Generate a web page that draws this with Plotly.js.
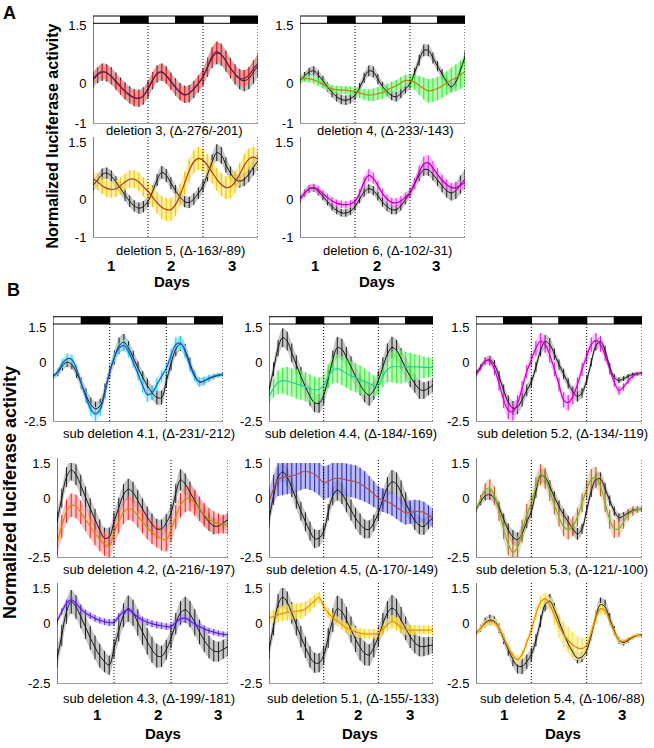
<!DOCTYPE html>
<html><head><meta charset="utf-8">
<script src="https://cdn.plot.ly/plotly-3.0.1.min.js"></script>
<style>html,body{margin:0;padding:0;background:#fff}#chart{width:654px;height:748px}</style>
</head><body><div id="chart"></div>
<script>
// ---------- DATA ----------
const hours = [0,2,4,6,8,10,12,14,16,18,20,22,24,26,28,30,32,34,36,38,40,42,44,46,48,50,52,54,56,58,60,62,64,66,68,70,72];
const dayBoundaries = [24,48,72];
const lightStarts = [0,24,48];
const darkStarts = [12,36,60];
const dayLabels = ['1','2','3'];

const subtitles = ['deletion 3, (\u0394-276/-201)','deletion 4, (\u0394-233/-143)','deletion 5, (\u0394-163/-89)','deletion 6, (\u0394-102/-31)',
 'sub deletion 4.1, (\u0394-231/-212)','sub deletion 4.4, (\u0394-184/-169)','sub deletion 5.2, (\u0394-134/-119)',
 'sub deletion 4.2, (\u0394-216/-197)','sub deletion 4.5, (\u0394-170/-149)','sub deletion 5.3, (\u0394-121/-100)',
 'sub deletion 4.3, (\u0394-199/-181)','sub deletion 5.1, (\u0394-155/-133)','sub deletion 5.4, (\u0394-106/-88)'];
const yTicksA = [-1,0,1.5];
const yTicksB = [-2.5,0,1.5];

// deletion 3
const d3k = [0.1,0.22,0.3,0.28,0.2,0.07,-0.06,-0.18,-0.28,-0.35,-0.37,-0.31,-0.14,0.08,0.25,0.3,0.22,0.07,-0.08,-0.2,-0.27,-0.25,-0.14,0.0,0.17,0.42,0.66,0.78,0.74,0.58,0.4,0.24,0.12,0.08,0.14,0.3,0.46];
const d3kErr = [0.2,0.2,0.22,0.22,0.22,0.22,0.22,0.22,0.22,0.22, 0.22,0.22,0.22,0.22,0.22,0.22,0.22,0.22,0.22,0.22, 0.22,0.22,0.22,0.22,0.22,0.24,0.26,0.28,0.28,0.27, 0.26,0.26,0.26,0.27,0.28,0.3,0.3];
const d3c = [0.12,0.25,0.31,0.28,0.18,0.05,-0.08,-0.2,-0.3,-0.36,-0.37,-0.3,-0.12,0.1,0.27,0.3,0.2,0.05,-0.1,-0.22,-0.29,-0.24,-0.12,0.02,0.18,0.45,0.7,0.82,0.75,0.58,0.4,0.25,0.15,0.13,0.22,0.38,0.52];
const d3cErr = [0.15,0.17,0.18,0.18,0.18,0.18,0.18,0.18,0.18,0.18, 0.18,0.18,0.18,0.18,0.19,0.2,0.2,0.19,0.18,0.18, 0.18,0.18,0.18,0.18,0.2,0.22,0.24,0.26,0.25,0.23, 0.21,0.2,0.2,0.2,0.2,0.2,0.2];
// deletion 4
const d4k = [0.09,0.2,0.3,0.33,0.22,0.08,-0.08,-0.22,-0.33,-0.4,-0.42,-0.38,-0.29,-0.1,0.15,0.33,0.3,0.12,-0.07,-0.2,-0.3,-0.33,-0.25,-0.13,0.0,0.28,0.6,0.85,0.85,0.66,0.45,0.25,0.05,-0.08,0.05,0.35,0.69];
const d4kErr = [0.1,0.1,0.11,0.12,0.12,0.12,0.12,0.12,0.12,0.12, 0.12,0.12,0.12,0.12,0.13,0.14,0.14,0.13,0.12,0.12, 0.12,0.12,0.12,0.12,0.12,0.13,0.14,0.15,0.15,0.14, 0.13,0.12,0.12,0.12,0.12,0.13,0.14];
const d4c = [0.12,0.13,0.13,0.1,0.05,-0.02,-0.08,-0.13,-0.15,-0.16,-0.16,-0.18,-0.2,-0.23,-0.27,-0.29,-0.28,-0.25,-0.22,-0.16,-0.1,-0.05,0.02,0.08,0.08,0.04,-0.04,-0.12,-0.18,-0.16,-0.12,-0.06,0.02,0.09,0.15,0.23,0.31];
const d4cErr = [0.08,0.08,0.09,0.09,0.1,0.1,0.1,0.1,0.1,0.1, 0.1,0.11,0.12,0.13,0.14,0.15,0.16,0.16,0.16,0.16, 0.15,0.15,0.15,0.15,0.17,0.2,0.24,0.28,0.3,0.3, 0.3,0.3,0.3,0.32,0.34,0.36,0.38];
// deletion 5
const d5k = [0.36,0.5,0.65,0.68,0.6,0.45,0.28,0.1,-0.06,-0.18,-0.24,-0.2,-0.06,0.2,0.5,0.7,0.62,0.42,0.22,0.05,-0.07,-0.09,0.0,0.15,0.34,0.65,0.98,1.22,1.15,0.9,0.68,0.52,0.47,0.52,0.65,0.84,1.0];
const d5kErr = [0.15,0.15,0.15,0.15,0.15,0.15,0.15,0.15,0.15,0.15, 0.15,0.15,0.15,0.15,0.16,0.17,0.17,0.16,0.15,0.15, 0.15,0.15,0.15,0.15,0.16,0.18,0.2,0.22,0.22,0.2, 0.18,0.17,0.17,0.18,0.2,0.22,0.24];
const d5c = [0.53,0.45,0.35,0.28,0.25,0.27,0.35,0.45,0.52,0.52,0.45,0.32,0.2,0.05,-0.1,-0.22,-0.28,-0.28,-0.15,0.1,0.42,0.75,0.98,1.07,1.02,0.88,0.7,0.52,0.38,0.3,0.32,0.45,0.65,0.88,1.05,1.1,1.05];
const d5cErr = [0.22,0.22,0.22,0.22,0.22,0.22,0.22,0.22,0.23,0.23, 0.24,0.25,0.26,0.27,0.28,0.3,0.3,0.3,0.3,0.3, 0.3,0.3,0.3,0.3,0.3,0.3,0.3,0.3,0.3,0.3, 0.3,0.3,0.3,0.3,0.28,0.27,0.26];
// deletion 6
const d6k = [0.0,0.15,0.26,0.29,0.2,0.07,-0.07,-0.2,-0.3,-0.36,-0.37,-0.32,-0.2,0.0,0.18,0.27,0.22,0.08,-0.08,-0.2,-0.28,-0.28,-0.18,-0.02,0.16,0.4,0.62,0.77,0.77,0.65,0.5,0.35,0.22,0.16,0.22,0.38,0.52];
const d6kErr = [0.1,0.1,0.1,0.1,0.1,0.1,0.1,0.1,0.1,0.1, 0.1,0.1,0.1,0.11,0.12,0.12,0.12,0.12,0.12,0.12, 0.12,0.12,0.12,0.12,0.13,0.14,0.15,0.16,0.16,0.16, 0.16,0.17,0.18,0.2,0.22,0.24,0.26];
const d6c = [0.0,0.15,0.27,0.3,0.24,0.14,0.04,-0.05,-0.11,-0.14,-0.15,-0.13,-0.06,0.15,0.45,0.62,0.55,0.35,0.15,0.0,-0.09,-0.1,-0.05,0.05,0.16,0.4,0.7,0.92,0.95,0.82,0.65,0.5,0.38,0.3,0.3,0.36,0.43];
const d6cErr = [0.08,0.09,0.1,0.1,0.1,0.1,0.1,0.1,0.1,0.1, 0.1,0.1,0.1,0.12,0.14,0.16,0.15,0.13,0.12,0.12, 0.12,0.12,0.12,0.12,0.13,0.15,0.18,0.2,0.2,0.18, 0.16,0.14,0.13,0.12,0.12,0.12,0.12];
// sub deletion 4.1
const b41k = [-0.6,-0.45,-0.15,0.0,-0.1,-0.45,-0.9,-1.4,-1.8,-1.98,-1.85,-1.2,-0.42,0.2,0.7,0.85,0.6,0.2,-0.25,-0.65,-1.0,-1.3,-1.5,-1.5,-0.8,-0.05,0.55,0.78,0.5,-0.05,-0.55,-0.84,-0.8,-0.7,-0.62,-0.56,-0.52];
const b41kErr = [0.1,0.15,0.2,0.2,0.2,0.22,0.25,0.28,0.3,0.3, 0.3,0.3,0.28,0.3,0.35,0.35,0.3,0.28,0.28,0.28, 0.3,0.3,0.3,0.3,0.3,0.3,0.3,0.3,0.28,0.25, 0.2,0.18,0.15,0.12,0.1,0.08,0.08];
const b41c = [-0.6,-0.4,-0.05,0.15,0.12,-0.3,-0.9,-1.5,-2.0,-2.2,-2.0,-1.3,-0.42,0.2,0.6,0.72,0.45,0.0,-0.5,-1.0,-1.38,-1.3,-0.95,-0.6,-0.27,0.3,0.75,0.82,0.45,-0.15,-0.6,-0.84,-0.8,-0.68,-0.6,-0.55,-0.52];
const b41cErr = [0.1,0.15,0.2,0.22,0.2,0.2,0.22,0.25,0.28,0.3, 0.28,0.25,0.2,0.2,0.22,0.25,0.25,0.25,0.28,0.3, 0.3,0.3,0.28,0.25,0.25,0.28,0.3,0.3,0.28,0.25, 0.22,0.2,0.18,0.15,0.12,0.1,0.08];
// sub deletion 4.4
const b44k = [-1.2,-0.3,0.6,1.05,0.9,0.4,-0.1,-0.6,-1.05,-1.45,-1.72,-1.75,-1.4,-0.7,0.1,0.62,0.55,0.2,-0.2,-0.6,-0.95,-1.25,-1.4,-1.2,-0.77,-0.2,0.35,0.63,0.5,0.15,-0.25,-0.6,-0.9,-1.15,-1.2,-1.1,-0.98];
const b44kErr = [0.2,0.3,0.35,0.4,0.4,0.4,0.4,0.4,0.4,0.4, 0.4,0.4,0.4,0.4,0.4,0.45,0.45,0.45,0.45,0.45, 0.45,0.45,0.45,0.4,0.4,0.4,0.45,0.45,0.45,0.45, 0.45,0.45,0.4,0.4,0.35,0.3,0.3];
const b44c = [-1.48,-1.1,-0.85,-0.78,-0.8,-0.86,-0.92,-0.98,-1.05,-1.12,-1.18,-1.15,-0.98,-0.6,-0.35,-0.27,-0.35,-0.48,-0.58,-0.66,-0.74,-0.82,-0.9,-1.0,-1.0,-0.6,-0.3,-0.2,-0.18,-0.2,-0.2,-0.2,-0.2,-0.2,-0.22,-0.22,-0.22];
const b44cErr = [0.25,0.4,0.5,0.55,0.6,0.6,0.62,0.62,0.62,0.6, 0.55,0.5,0.45,0.5,0.55,0.6,0.62,0.62,0.62,0.62, 0.6,0.55,0.5,0.45,0.4,0.45,0.55,0.65,0.7,0.7, 0.65,0.6,0.55,0.5,0.45,0.42,0.4];
// sub deletion 5.2
const b52k = [-0.45,-0.2,0.05,0.1,-0.1,-0.6,-1.2,-1.7,-1.95,-1.9,-1.6,-1.2,-0.84,-0.2,0.5,0.88,0.75,0.35,-0.1,-0.5,-0.9,-1.25,-1.45,-1.3,-0.77,0.0,0.7,0.88,0.5,-0.2,-0.65,-0.77,-0.7,-0.6,-0.52,-0.48,-0.46];
const b52kErr = [0.1,0.12,0.15,0.18,0.2,0.22,0.25,0.28,0.3,0.3, 0.28,0.25,0.22,0.22,0.25,0.28,0.28,0.25,0.22,0.22, 0.22,0.22,0.22,0.2,0.18,0.18,0.2,0.22,0.2,0.18, 0.15,0.12,0.1,0.1,0.08,0.08,0.08];
const b52c = [-0.56,-0.25,0.05,0.05,-0.3,-0.9,-1.6,-2.05,-2.1,-1.75,-1.1,-0.4,0.1,0.6,0.9,0.75,0.3,-0.3,-0.95,-1.6,-1.72,-1.45,-0.95,-0.3,0.25,0.75,0.93,0.75,0.3,-0.3,-0.85,-1.2,-1.05,-0.8,-0.6,-0.5,-0.46];
const b52cErr = [0.08,0.1,0.15,0.2,0.25,0.3,0.35,0.38,0.38,0.35, 0.3,0.28,0.3,0.32,0.35,0.35,0.32,0.3,0.3,0.32, 0.33,0.33,0.3,0.28,0.28,0.3,0.32,0.3,0.25,0.22, 0.2,0.18,0.15,0.12,0.1,0.08,0.08];
// sub deletion 4.2
const b42k = [-0.99,0.0,0.9,1.2,1.0,0.55,0.05,-0.45,-0.9,-1.35,-1.7,-1.65,-1.0,-0.4,0.15,0.38,0.25,-0.1,-0.45,-0.8,-1.1,-1.3,-1.3,-1.05,-0.63,0.2,0.78,0.6,0.25,-0.1,-0.45,-0.75,-1.0,-1.18,-1.18,-1.05,-0.91];
const b42kErr = [0.4,0.4,0.42,0.45,0.45,0.45,0.45,0.45,0.45,0.45, 0.45,0.4,0.4,0.42,0.45,0.45,0.45,0.45,0.45,0.45, 0.45,0.42,0.4,0.38,0.38,0.4,0.45,0.45,0.45,0.45, 0.42,0.4,0.38,0.35,0.32,0.3,0.3];
const b42c = [-1.91,-1.2,-0.55,-0.3,-0.35,-0.6,-0.9,-1.2,-1.5,-1.75,-1.95,-2.05,-1.48,-1.0,-0.6,-0.43,-0.5,-0.75,-1.0,-1.25,-1.45,-1.6,-1.72,-1.76,-1.34,-0.8,-0.3,-0.05,0.0,-0.2,-0.45,-0.7,-0.9,-1.0,-1.08,-1.1,-1.13];
const b42cErr = [0.5,0.5,0.5,0.5,0.5,0.5,0.5,0.5,0.5,0.5, 0.5,0.5,0.5,0.5,0.5,0.5,0.5,0.5,0.5,0.5, 0.5,0.5,0.5,0.5,0.5,0.5,0.52,0.55,0.55,0.55, 0.52,0.5,0.48,0.45,0.42,0.4,0.4];
// sub deletion 4.5
const b45k = [-0.91,0.1,0.9,1.12,0.9,0.45,-0.05,-0.55,-1.0,-1.4,-1.72,-1.7,-1.41,-0.6,0.1,0.35,0.2,-0.15,-0.5,-0.85,-1.1,-1.3,-1.32,-1.05,-0.63,-0.05,0.45,0.7,0.6,0.25,-0.2,-0.6,-0.95,-1.15,-1.2,-1.0,-0.84];
const b45kErr = [0.35,0.38,0.4,0.4,0.4,0.4,0.4,0.4,0.4,0.4, 0.4,0.35,0.3,0.35,0.4,0.45,0.45,0.45,0.45,0.45, 0.45,0.4,0.38,0.35,0.35,0.38,0.45,0.5,0.5,0.5, 0.45,0.42,0.4,0.38,0.35,0.32,0.3];
const b45c = [-0.15,0.4,0.8,0.88,0.92,0.95,1.0,1.1,1.15,1.1,1.02,0.85,0.65,0.72,0.82,0.86,0.82,0.78,0.74,0.7,0.62,0.5,0.35,0.18,0.01,-0.08,-0.15,-0.25,-0.38,-0.52,-0.62,-0.6,-0.56,-0.56,-0.6,-0.72,-0.84];
const b45cErr = [0.5,0.6,0.7,0.75,0.75,0.75,0.75,0.75,0.75,0.75, 0.75,0.72,0.7,0.7,0.7,0.7,0.7,0.7,0.7,0.7, 0.68,0.65,0.6,0.55,0.5,0.5,0.5,0.5,0.5,0.5, 0.5,0.5,0.5,0.48,0.45,0.42,0.4];
// sub deletion 5.3
const b53k = [-0.49,-0.15,0.1,0.15,0.0,-0.4,-0.9,-1.35,-1.65,-1.76,-1.5,-1.0,-0.56,0.3,0.95,0.9,0.5,0.05,-0.35,-0.7,-1.0,-1.3,-1.52,-1.3,-0.5,0.3,0.8,0.82,0.4,-0.1,-0.55,-0.82,-0.75,-0.62,-0.52,-0.48,-0.46];
const b53kErr = [0.1,0.15,0.2,0.22,0.22,0.22,0.25,0.28,0.3,0.3, 0.3,0.28,0.25,0.28,0.3,0.3,0.28,0.25,0.25,0.25, 0.25,0.25,0.25,0.22,0.22,0.25,0.28,0.28,0.25,0.22, 0.2,0.18,0.15,0.12,0.1,0.08,0.08];
const b53c = [-0.49,-0.05,0.35,0.43,0.1,-0.55,-1.3,-1.95,-2.3,-2.1,-1.4,-0.7,-0.2,0.5,1.0,0.85,0.3,-0.3,-0.8,-1.2,-1.34,-1.2,-0.8,-0.2,0.36,0.8,0.88,0.5,-0.2,-0.9,-1.3,-1.3,-1.0,-0.7,-0.55,-0.48,-0.46];
const b53cErr = [0.1,0.2,0.3,0.38,0.4,0.42,0.45,0.48,0.5,0.5, 0.48,0.45,0.42,0.42,0.45,0.45,0.42,0.4,0.4,0.42, 0.42,0.42,0.4,0.4,0.42,0.45,0.45,0.42,0.4,0.4, 0.38,0.35,0.3,0.25,0.2,0.15,0.12];
// sub deletion 4.3
const b43k = [-1.47,-0.5,0.5,0.92,0.7,0.3,-0.15,-0.6,-1.0,-1.35,-1.6,-1.75,-1.05,-0.3,0.35,0.63,0.45,0.05,-0.35,-0.75,-1.1,-1.35,-1.38,-1.1,-0.62,0.0,0.45,0.58,0.4,0.05,-0.35,-0.7,-0.98,-1.15,-1.18,-1.08,-0.97];
const b43kErr = [0.4,0.45,0.5,0.5,0.5,0.5,0.5,0.5,0.5,0.5, 0.45,0.4,0.4,0.45,0.5,0.55,0.55,0.55,0.55,0.55, 0.55,0.5,0.45,0.42,0.42,0.45,0.5,0.55,0.55,0.55, 0.52,0.5,0.48,0.45,0.42,0.4,0.4];
const b43c = [0.08,0.5,0.85,1.0,0.85,0.62,0.45,0.33,0.22,0.14,0.08,0.04,0.06,0.3,0.5,0.58,0.45,0.28,0.15,0.06,0.0,-0.05,-0.09,-0.12,-0.13,0.05,0.2,0.23,0.12,-0.02,-0.12,-0.22,-0.3,-0.36,-0.41,-0.45,-0.48];
const b43cErr = [0.12,0.14,0.15,0.16,0.15,0.15,0.14,0.14,0.14,0.14, 0.14,0.14,0.14,0.15,0.16,0.16,0.15,0.14,0.14,0.14, 0.14,0.14,0.14,0.14,0.14,0.15,0.16,0.16,0.15,0.14, 0.14,0.14,0.13,0.13,0.12,0.12,0.12];
// sub deletion 5.1
const b51k = [-1.12,-0.1,0.8,1.12,0.9,0.45,-0.05,-0.55,-1.0,-1.4,-1.65,-1.65,-1.33,-0.6,0.15,0.62,0.5,0.15,-0.25,-0.65,-1.0,-1.25,-1.32,-1.0,-0.55,0.0,0.45,0.65,0.5,0.15,-0.2,-0.55,-0.8,-0.95,-0.97,-0.93,-0.9];
const b51kErr = [0.35,0.4,0.45,0.45,0.45,0.45,0.45,0.45,0.45,0.45, 0.42,0.4,0.4,0.42,0.5,0.55,0.55,0.55,0.55,0.55, 0.55,0.5,0.45,0.42,0.42,0.45,0.5,0.55,0.55,0.55, 0.5,0.48,0.45,0.42,0.4,0.38,0.35];
const b51c = [0.23,0.3,0.37,0.43,0.47,0.5,0.52,0.55,0.62,0.78,0.95,1.1,0.72,0.45,0.25,0.1,-0.05,-0.18,-0.27,-0.35,-0.4,-0.43,-0.44,-0.43,-0.41,-0.25,-0.05,0.08,0.0,-0.15,-0.25,-0.27,-0.27,-0.27,-0.27,-0.27,-0.27];
const b51cErr = [0.25,0.28,0.3,0.32,0.33,0.33,0.33,0.33,0.3,0.28, 0.25,0.22,0.2,0.2,0.2,0.2,0.2,0.2,0.2,0.2, 0.2,0.2,0.2,0.2,0.2,0.22,0.25,0.28,0.28,0.25, 0.22,0.2,0.2,0.18,0.18,0.18,0.18];
// sub deletion 5.4
const b54k = [-0.41,-0.2,0.05,0.15,0.1,-0.2,-0.65,-1.1,-1.5,-1.78,-1.8,-1.6,-1.3,-0.7,0.1,0.8,0.95,0.6,0.1,-0.4,-0.85,-1.2,-1.45,-1.4,-1.12,-0.5,0.3,0.8,0.7,0.2,-0.3,-0.7,-0.8,-0.7,-0.58,-0.5,-0.48];
const b54kErr = [0.08,0.15,0.2,0.22,0.2,0.2,0.22,0.25,0.3,0.32, 0.32,0.3,0.28,0.25,0.25,0.28,0.3,0.28,0.25,0.22, 0.22,0.22,0.22,0.22,0.2,0.2,0.25,0.3,0.3,0.25, 0.2,0.15,0.12,0.1,0.08,0.08,0.08];
const b54c = [-0.41,-0.2,0.0,0.08,0.05,-0.2,-0.6,-1.0,-1.35,-1.52,-1.3,-0.8,-0.27,0.4,0.9,1.05,0.8,0.35,-0.1,-0.45,-0.7,-0.9,-1.02,-1.05,-0.9,-0.4,0.25,0.62,0.55,0.1,-0.35,-0.7,-0.75,-0.65,-0.55,-0.5,-0.48];
const b54cErr = [0.08,0.12,0.15,0.15,0.15,0.15,0.15,0.15,0.18,0.2, 0.2,0.2,0.25,0.28,0.28,0.25,0.3,0.4,0.5,0.55, 0.55,0.55,0.5,0.45,0.35,0.3,0.28,0.25,0.2,0.18, 0.15,0.12,0.12,0.1,0.1,0.08,0.08];

// ---------- PANEL SETUP (layout/style) ----------
const series = [
 [d3k,d3kErr,d3c,d3cErr],[d4k,d4kErr,d4c,d4cErr],[d5k,d5kErr,d5c,d5cErr],[d6k,d6kErr,d6c,d6cErr],
 [b41k,b41kErr,b41c,b41cErr],[b44k,b44kErr,b44c,b44cErr],[b52k,b52kErr,b52c,b52cErr],
 [b42k,b42kErr,b42c,b42cErr],[b45k,b45kErr,b45c,b45cErr],[b53k,b53kErr,b53c,b53cErr],
 [b43k,b43kErr,b43c,b43cErr],[b51k,b51kErr,b51c,b51cErr],[b54k,b54kErr,b54c,b54cErr]];
const styles = [
 {bar:'#ee2020',fill:'rgba(255,120,120,0.55)',line:'#6a1f5a'},
 {bar:'#33ee33',fill:'rgba(120,240,120,0.55)',line:'#b8860b'},
 {bar:'#f0c800',fill:'rgba(255,225,90,0.55)',line:'#c0301a'},
 {bar:'#ee33ee',fill:'rgba(245,140,245,0.55)',line:'#b000b0'},
 {bar:'#22ddf0',fill:'rgba(130,235,250,0.55)',line:'#1f4fd0'},
 {bar:'#33ee33',fill:'rgba(140,245,140,0.55)',line:'#20d0a0'},
 {bar:'#e020e0',fill:'rgba(240,140,240,0.45)',line:'#cc00cc'},
 {bar:'#ee3030',fill:'rgba(250,140,140,0.55)',line:'#c89000'},
 {bar:'#3030b0',fill:'rgba(140,140,230,0.6)',line:'#b05050'},
 {bar:'#c06030',fill:'rgba(230,170,130,0.45)',line:'#60c020'},
 {bar:'#6a2ae0',fill:'rgba(170,150,245,0.6)',line:'#5a20d0'},
 {bar:'#f0d000',fill:'rgba(255,230,100,0.55)',line:'#f09000'},
 {bar:'#f5e050',fill:'rgba(255,240,130,0.6)',line:'#f08000'}];
const geom = [
 {x0:93,x1:258,yt:25,yb:123,A:true,bar:true,sx:174,sy:130},
 {x0:300,x1:465,yt:25,yb:123,A:true,bar:true,sx:385,sy:130},
 {x0:93,x1:258,yt:142,yb:237,A:true,sx:180,sy:250},
 {x0:300,x1:465,yt:142,yb:237,A:true,sx:387,sy:250},
 {x0:53,x1:223,yt:327,yb:421,bar:true,sx:149,sy:433},
 {x0:269,x1:433,yt:327,yb:421,bar:true,sx:351,sy:433},
 {x0:476,x1:642,yt:327,yb:421,bar:true,sx:562,sy:433},
 {x0:57,x1:228,yt:463,yb:557,sx:149,sy:569},
 {x0:269,x1:433,yt:463,yb:557,sx:352,sy:569},
 {x0:476,x1:642,yt:463,yb:557,sx:562,sy:569},
 {x0:57,x1:228,yt:588,yb:683,sx:149,sy:698},
 {x0:269,x1:433,yt:588,yb:683,sx:353,sy:698},
 {x0:476,x1:642,yt:588,yb:683,sx:562,sy:698}];

const W=654,H=748;
const px = x=>x/W, py = y=>1-y/H;
const FONT = 'Liberation Sans, Arial, sans-serif';
const traces=[], shapes=[], annotations=[];
const layout = {width:W,height:H,margin:{l:0,r:0,t:0,b:0},paper_bgcolor:'#fff',plot_bgcolor:'rgba(0,0,0,0)',
  showlegend:false,font:{family:FONT,color:'#000'}};

function band(xa,ya,mean,err,fill,barColor){
  const up=mean.map((v,j)=>v+err[j]), lo=mean.map((v,j)=>v-err[j]);
  traces.push({x:hours,y:up,xaxis:xa,yaxis:ya,mode:'lines',line:{width:0,shape:'spline',color:fill},hoverinfo:'skip'});
  traces.push({x:hours,y:lo,xaxis:xa,yaxis:ya,mode:'lines',line:{width:0,shape:'spline',color:fill},fill:'tonexty',fillcolor:fill,hoverinfo:'skip'});
  traces.push({x:hours,y:mean,xaxis:xa,yaxis:ya,mode:'markers',marker:{size:1,color:'rgba(0,0,0,0)'},
    error_y:{type:'data',array:err,visible:true,color:barColor,thickness:1.1,width:0},hoverinfo:'skip'});
}

geom.forEach((g,i)=>{
  const n = i===0?'':String(i+1);
  const xa='x'+n, ya='y'+n;
  const yr = g.A?[-1,1.5]:[-2.5,1.5];
  const tv = g.A?yTicksA:yTicksB;
  layout['xaxis'+n]={domain:[px(g.x0),px(g.x1)],range:[0,72],anchor:ya,showgrid:false,zeroline:false,
    showticklabels:false,ticks:'',showline:true,linecolor:'#9a9a9a',linewidth:1,fixedrange:true};
  layout['yaxis'+n]={domain:[py(g.yb),py(g.yt)],range:yr,anchor:xa,showgrid:false,zeroline:false,showline:false,
    tickvals:tv,ticktext:tv.map(String),ticks:'outside',ticklen:3,tickcolor:'rgba(0,0,0,0)',
    tickfont:{size:13,family:FONT,color:'#000'},fixedrange:true};
  const [k,kE,c,cE]=series[i], st=styles[i];
  band(xa,ya,k,kE,'rgba(160,160,160,0.6)','#2a2a2a');
  band(xa,ya,c,cE,st.fill,st.bar);
  traces.push({x:hours,y:k,xaxis:xa,yaxis:ya,mode:'lines',line:{color:'#151515',width:1,shape:'spline'},hoverinfo:'skip'});
  traces.push({x:hours,y:c,xaxis:xa,yaxis:ya,mode:'lines',line:{color:st.line,width:1.2,shape:'spline'},hoverinfo:'skip'});
  const hpx = g.yb-g.yt;
  let top = 1+5/hpx;
  if(g.bar){
    const b0 = g.A?1+1.7/hpx:1+3/hpx, b1 = g.A?1+9/hpx:1+10.3/hpx;
    top=b0;
    lightStarts.forEach(s=>shapes.push({type:'rect',xref:xa,yref:ya+' domain',x0:s,x1:s+12,y0:b0,y1:b1,fillcolor:'#fff',line:{color:'#000',width:1}}));
    darkStarts.forEach(s=>shapes.push({type:'rect',xref:xa,yref:ya+' domain',x0:s,x1:s+12,y0:b0,y1:b1,fillcolor:'#000',line:{color:'#000',width:1}}));
  }
  dayBoundaries.forEach(d=>shapes.push({type:'line',xref:xa,yref:ya+' domain',x0:d,x1:d,y0:0,y1:top,line:{color:'#000',width:1,dash:'1px,2px'}}));
  shapes.push({type:'line',xref:xa,yref:ya+' domain',x0:0,x1:0,y0:0,y1:top,line:{color:'#000',width:1}});
  annotations.push({text:subtitles[i],xref:'paper',yref:'paper',x:px(g.sx),y:py(g.sy),xanchor:'center',yanchor:'middle',
    showarrow:false,font:{size:13,family:FONT,color:'#000'}});
});

// day labels
const dayPos = [
 {xs:[111,171,232],dx:172,ny:265,dy:281},
 {xs:[315,377,436],dx:377,ny:265,dy:281},
 {xs:[97,158,218],dx:163,ny:714,dy:733},
 {xs:[300,358,410],dx:360,ny:714,dy:733},
 {xs:[504,561,622],dx:563,ny:714,dy:733}];
dayPos.forEach(p=>{
  p.xs.forEach((x,j)=>annotations.push({text:'<b>'+dayLabels[j]+'</b>',xref:'paper',yref:'paper',x:px(x),y:py(p.ny),
    xanchor:'center',yanchor:'middle',showarrow:false,font:{size:15,family:FONT,color:'#000'}}));
  annotations.push({text:'<b>Days</b>',xref:'paper',yref:'paper',x:px(p.dx),y:py(p.dy),xanchor:'center',yanchor:'middle',
    showarrow:false,font:{size:15,family:FONT,color:'#000'}});
});
annotations.push({text:'<b>Normalized luciferase activity</b>',xref:'paper',yref:'paper',x:px(52),y:py(136.5),textangle:-90,
  xanchor:'center',yanchor:'middle',showarrow:false,font:{size:16,family:FONT,color:'#000'}});
annotations.push({text:'<b>Normalized luciferase activity</b>',xref:'paper',yref:'paper',x:px(10),y:py(493),textangle:-90,
  xanchor:'center',yanchor:'middle',showarrow:false,font:{size:18,family:FONT,color:'#000'}});
annotations.push({text:'<b>A</b>',xref:'paper',yref:'paper',x:px(9),y:py(13),xanchor:'center',yanchor:'middle',showarrow:false,font:{size:18,family:FONT,color:'#000'}});
annotations.push({text:'<b>B</b>',xref:'paper',yref:'paper',x:px(13),y:py(290),xanchor:'center',yanchor:'middle',showarrow:false,font:{size:18,family:FONT,color:'#000'}});

layout.shapes=shapes; layout.annotations=annotations;
Plotly.newPlot('chart',traces,layout,{staticPlot:true,displayModeBar:false});
</script></body></html>
